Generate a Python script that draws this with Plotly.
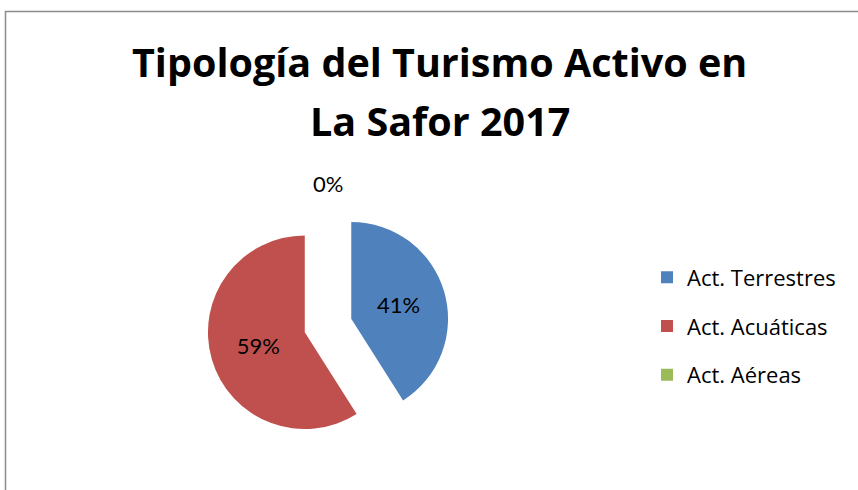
import plotly.graph_objects as go

# Data
categories = ["Act. Terrestres", "Act. Acuáticas", "Act. Aéreas"]
values = [41, 59, 0]
colors = ["#4F81BD", "#C0504D", "#9BBB59"]
title_lines = ["Tipología del Turismo Activo en", "La Safor 2017"]

W, H = 858, 490
total = sum(values)
pct_text = ["%d%%" % round(100 * v / total) for v in values]
# the zero slice label is placed separately (above the pie), as in the original
slice_text = [pct_text[0], pct_text[1], ""]

fig = go.Figure()

fig.add_trace(go.Pie(
    labels=categories,
    values=values,
    sort=False,
    direction="clockwise",
    rotation=0,
    pull=[0.25, 0.25, 0.25],
    marker=dict(colors=colors, line=dict(width=0)),
    text=slice_text,
    textinfo="text",
    textposition="inside",
    insidetextorientation="horizontal",
    textfont=dict(family="Lato", size=22, color="#000000"),
    domain=dict(x=[207/W, 449/W], y=[43.5/H, 285.5/H]),
    showlegend=False,
    hoverinfo="label+percent",
))

# legend entries (one per category, so they can be spaced like the original)
for name, col in zip(categories, colors):
    fig.add_trace(go.Scatter(
        x=[None], y=[None], mode="markers", name=name, legendgroup=name,
        marker=dict(symbol="square", size=12, color=col),
    ))

fig.update_layout(
    width=W, height=H,
    margin=dict(l=0, r=0, t=0, b=0),
    paper_bgcolor="white", plot_bgcolor="white",
    xaxis=dict(visible=False), yaxis=dict(visible=False),
    showlegend=True,
    legend=dict(
        x=647/W, y=(H-256.4)/H, xanchor="left", yanchor="top",
        font=dict(family="Open Sans", size=22, color="#000000"),
        traceorder="grouped", tracegroupgap=17.2,
        bgcolor="rgba(0,0,0,0)",
    ),
    annotations=[
        dict(text="<b>%s</b>" % title_lines[0], x=440/W, y=(H-62)/H,
             xref="paper", yref="paper", showarrow=False,
             xanchor="center", yanchor="middle",
             font=dict(family="Open Sans", size=39.5, color="#000000")),
        dict(text="<b>%s</b>" % title_lines[1], x=440/W, y=(H-121)/H,
             xref="paper", yref="paper", showarrow=False,
             xanchor="center", yanchor="middle",
             font=dict(family="Open Sans", size=39.5, color="#000000")),
        dict(text=pct_text[2], x=328/W, y=(H-183)/H,
             xref="paper", yref="paper", showarrow=False,
             xanchor="center", yanchor="middle",
             font=dict(family="Lato", size=22, color="#000000")),
    ],
    shapes=[
        dict(type="rect", xref="paper", yref="paper",
             x0=5.5/W, x1=1.05, y0=-0.05, y1=(H-11.5)/H,
             line=dict(color="#8C8C8C", width=1.5), fillcolor="rgba(0,0,0,0)"),
    ],
)

fig.write_html("out.html", config={"displayModeBar": False},
               post_script="document.body.style.margin='0';")
